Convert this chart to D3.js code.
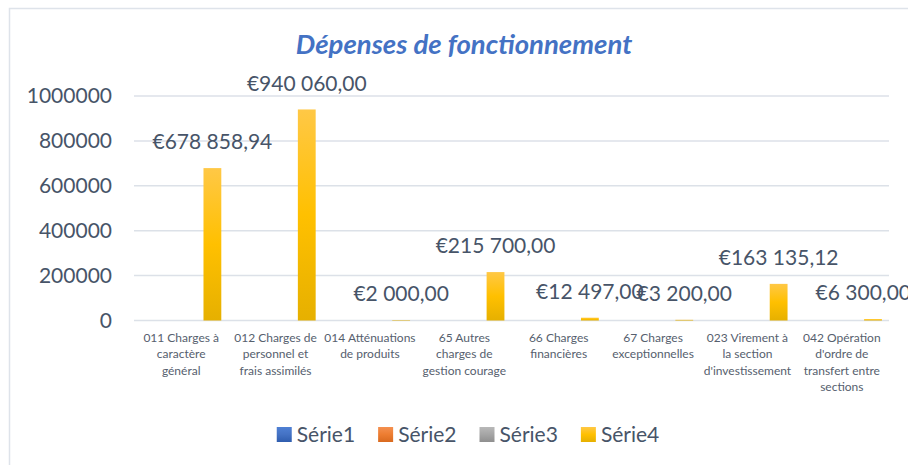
<!DOCTYPE html>
<html>
<head>
<meta charset="utf-8">
<script src="https://cdn.jsdelivr.net/npm/d3@7"></script>
<style>
  html, body { margin: 0; padding: 0; background: #fff; }
  svg { display: block; }
</style>
</head>
<body>
<div id="chart"></div>
<script>
// données
const categories = [
  "011 Charges à caractère général",
  "012 Charges de personnel et frais assimilés",
  "014 Atténuations de produits",
  "65 Autres charges de gestion courage",
  "66 Charges financières",
  "67 Charges exceptionnelles",
  "023 Virement à la section d'investissement",
  "042 Opération d'ordre de transfert entre sections"
];
const seriesNames = ["Série1", "Série2", "Série3", "Série4"];
const serie1 = [null, null, null, null, null, null, null, null];
const serie2 = [null, null, null, null, null, null, null, null];
const serie3 = [null, null, null, null, null, null, null, null];
const serie4 = [678858.94, 940060.00, 2000.00, 215700.00, 12497.00, 3200.00, 163135.12, 6300.00];
const yTicks = [0, 200000, 400000, 600000, 800000, 1000000];
const title = "Dépenses de fonctionnement";

const width = 908, height = 465;
const font = "Lato, 'Open Sans', sans-serif";
const textCol = "#475468";
const gridCol = "#DCE1E8";

const svg = d3.select("#chart").append("svg")
    .attr("width", width)
    .attr("height", height)
    .style("font-family", font);

// dégradés façon Excel
const defs = svg.append("defs");
const grads = [
  {id: "g1", stops: ["#4F80D4", "#4472C4", "#2F5DAE"]},
  {id: "g2", stops: ["#F49050", "#ED7D31", "#D96A1F"]},
  {id: "g3", stops: ["#B8B8B8", "#A5A5A5", "#8F8F8F"]},
  {id: "g4", stops: ["#FFC846", "#FFC000", "#E6B000"]}
];
grads.forEach(g => {
  const lg = defs.append("linearGradient").attr("id", g.id)
      .attr("x1", 0).attr("y1", 0).attr("x2", 0).attr("y2", 1);
  g.stops.forEach((c, i) => lg.append("stop").attr("offset", (i * 50) + "%").attr("stop-color", c));
});

// cadre du graphique
svg.append("rect")
    .attr("x", 9.5).attr("y", 8.5)
    .attr("width", 940).attr("height", 500)
    .attr("fill", "none")
    .attr("stroke", "#DEE3EA")
    .attr("stroke-width", 1.5);

// titre
svg.append("text")
    .attr("x", 464).attr("y", 54)
    .attr("text-anchor", "middle")
    .attr("font-size", 27.5)
    .attr("font-weight", "bold")
    .attr("font-style", "italic")
    .attr("fill", "#4472C4")
    .text(title);

// échelles
const x0 = d3.scaleBand().domain(categories).range([134, 889]).padding(0);
const bw = x0.bandwidth();
const x1 = d3.scaleBand().domain(seriesNames).range([bw * 0.17, bw * 0.925]).padding(0);
const y = d3.scaleLinear().domain([0, 1000000]).range([320.5, 96]);

// grille
svg.append("g").selectAll("line")
  .data(yTicks)
  .join("line")
    .attr("x1", 134).attr("x2", 889)
    .attr("y1", d => y(d)).attr("y2", d => y(d))
    .attr("stroke", gridCol)
    .attr("stroke-width", 1.5);

// axe Y
const yAxis = svg.append("g")
    .attr("transform", "translate(112,0)")
    .call(d3.axisLeft(y).tickValues(yTicks).tickFormat(d3.format("d")).tickSize(0).tickPadding(0));
yAxis.select(".domain").remove();
yAxis.selectAll("text")
    .attr("font-family", font)
    .attr("font-size", 21)
    .attr("fill", textCol);

// barres
const allSeries = [serie1, serie2, serie3, serie4];
const barData = [];
allSeries.forEach((s, si) => s.forEach((v, ci) => {
  if (v != null) barData.push({cat: categories[ci], serie: seriesNames[si], si: si, value: v});
}));

svg.append("g").selectAll("rect")
  .data(barData)
  .join("rect")
    .attr("x", d => x0(d.cat) + x1(d.serie))
    .attr("y", d => y(d.value))
    .attr("width", x1.bandwidth())
    .attr("height", d => y(0) - y(d.value))
    .attr("fill", d => "url(#g" + (d.si + 1) + ")");

// étiquettes de données (gardées dans la zone du graphique comme Excel)
const fmtNum = d3.formatLocale({decimal: ",", thousands: " ", grouping: [3], currency: ["€", ""]}).format(",.2f");
svg.append("g").selectAll("text")
  .data(barData)
  .join("text")
    .attr("x", d => x0(d.cat) + x1(d.serie) + x1.bandwidth() / 2)
    .attr("y", d => y(d.value) - 26)
    .attr("dy", "0.35em")
    .attr("text-anchor", "middle")
    .attr("font-size", 21)
    .attr("fill", textCol)
    .text(d => "€" + fmtNum(d.value))
  .each(function() {
    const bb = this.getBBox();
    const over = bb.x + bb.width - 911;
    if (over > 0) d3.select(this).attr("x", +d3.select(this).attr("x") - over);
  });

// libellés des catégories (retour à la ligne)
const xAxis = svg.append("g");
const catLabels = xAxis.selectAll("text")
  .data(categories)
  .join("text")
    .attr("x", d => x0(d) + bw / 2)
    .attr("y", 342)
    .attr("text-anchor", "middle")
    .attr("font-size", 12)
    .attr("fill", "#56606E");

catLabels.each(function(d) {
  const t = d3.select(this);
  const words = d.split(" ");
  let line = [], lines = [];
  const probe = t.append("tspan");
  words.forEach(w => {
    const test = line.concat(w).join(" ");
    probe.text(test);
    // le code comptable reste avec le mot suivant
    const codeOnly = line.length === 1 && /^\d+$/.test(line[0]);
    if (probe.node().getComputedTextLength() > 88 && line.length && !codeOnly) {
      lines.push(line.join(" "));
      line = [w];
    } else line.push(w);
  });
  lines.push(line.join(" "));
  probe.remove();
  lines.forEach((l, i) => t.append("tspan")
      .attr("x", x0(d) + bw / 2)
      .attr("dy", i === 0 ? 0 : 16.3)
      .text(l));
});

// légende
const legend = svg.append("g");
const items = legend.selectAll("g")
  .data(seriesNames)
  .join("g");
items.append("rect")
    .attr("y", 427).attr("width", 15).attr("height", 15)
    .attr("fill", (d, i) => "url(#g" + (i + 1) + ")");
items.append("text")
    .attr("x", 20).attr("y", 442)
    .attr("font-size", 21)
    .attr("fill", textCol)
    .text(d => d);
let pos = 0;
const offsets = [];
items.each(function() {
  offsets.push(pos);
  pos += 20 + d3.select(this).select("text").node().getComputedTextLength() + 23;
});
const legendW = pos - 23;
const lx = 468 - legendW / 2;
items.attr("transform", (d, i) => `translate(${lx + offsets[i]},0)`);
</script>
</body>
</html>
